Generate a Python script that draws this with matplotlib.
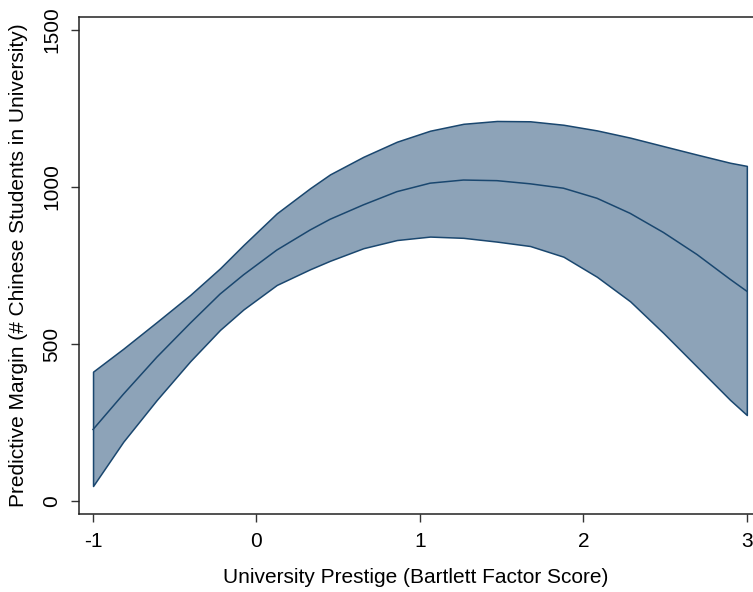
import matplotlib
matplotlib.use("Agg")
import matplotlib.pyplot as plt

# values
prestige = [-1.0, -0.815, -0.61, -0.406, -0.223, -0.08, 0.124, 0.328, 0.45,
            0.654, 0.859, 1.062, 1.266, 1.471, 1.674, 1.878, 2.083, 2.286,
            2.49, 2.695, 2.898, 3.0]
margin = [228, 340, 458, 566, 659, 720, 799, 863, 897, 943, 985, 1012, 1022,
          1020, 1010, 996, 964, 916, 855, 785, 706, 668]
ci_upper = [412, 485, 570, 656, 741, 815, 916, 996, 1040, 1096, 1144, 1179,
            1201, 1210, 1209, 1198, 1180, 1157, 1130, 1103, 1077, 1067]
ci_lower = [48, 189, 322, 445, 545, 610, 688, 738, 765, 805, 831, 842, 838,
            826, 812, 778, 714, 636, 535, 428, 322, 274]

x_ticks = [-1, 0, 1, 2, 3]
y_ticks = [0, 500, 1000, 1500]

plt.rcParams['font.family'] = ['Liberation Sans', 'DejaVu Sans']

line_col = '#1A476F'
fill_col = '#8DA3B8'

fig = plt.figure(figsize=(7.53, 5.92), dpi=100)
ax = fig.add_axes([0.1049, 0.1318, 0.8945, 0.8395])

ax.fill_between(prestige, ci_lower, ci_upper, facecolor=fill_col,
                edgecolor=line_col, linewidth=1.1)
ax.plot(prestige, margin, color=line_col, linewidth=1.1)

ax.set_xlim(-1.086, 3.035)
ax.set_ylim(-41, 1541)
ax.set_xticks(x_ticks)
ax.set_yticks(y_ticks)
ax.set_xticklabels([str(v) for v in x_ticks])
ax.set_yticklabels([str(v) for v in y_ticks], rotation=90, va='center')
ax.tick_params(axis='both', labelsize=15, length=6, width=1, color='#333333', pad=7)

for s in ['left', 'bottom', 'top']:
    ax.spines[s].set_linewidth(1.1)
    ax.spines[s].set_color('#222222')
ax.spines['right'].set_visible(False)

ax.set_xlabel('University Prestige (Bartlett Factor Score)', fontsize=15, labelpad=12)
ax.set_ylabel('Predictive Margin (# Chinese Students in University)', fontsize=15, labelpad=10)

fig.savefig('out.png', dpi=100)
